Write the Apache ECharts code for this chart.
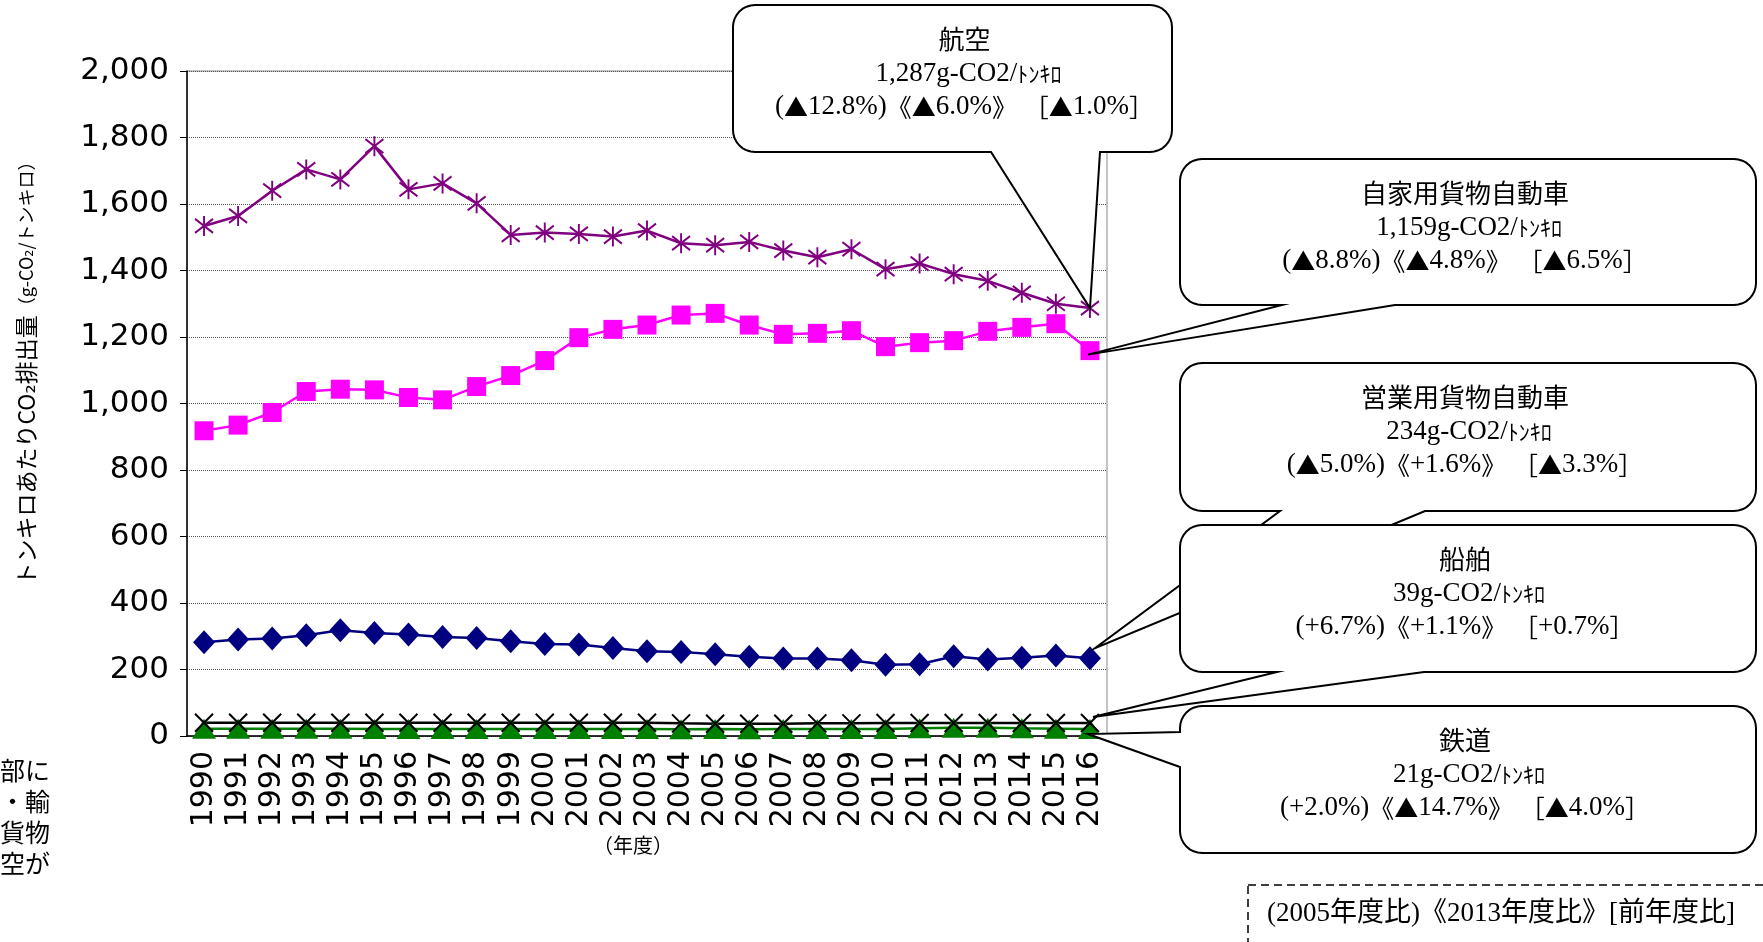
<!DOCTYPE html>
<html>
<head>
<meta charset="utf-8">
<script src="https://cdn.jsdelivr.net/npm/echarts@6/dist/echarts.min.js"></script>
<style>
html, body { margin: 0; padding: 0; background: #fff; }
#main { width: 1763px; height: 942px; }
</style>
</head>
<body>
<div id="main"></div>
<script>
// 年度
var years = ['1990', '1991', '1992', '1993', '1994', '1995', '1996', '1997', '1998', '1999',
    '2000', '2001', '2002', '2003', '2004', '2005', '2006', '2007', '2008', '2009',
    '2010', '2011', '2012', '2013', '2014', '2015', '2016'];

// トンキロあたりCO2排出量 (g-CO2/トンキロ)
var aviation = [1534, 1564, 1640, 1704, 1674, 1774, 1644, 1662, 1602, 1507, 1514, 1510, 1502, 1520,
    1482, 1476, 1486, 1460, 1440, 1464, 1404, 1421, 1389, 1369, 1333, 1300, 1287];
var privateTruck = [918, 935, 973, 1036, 1043, 1041, 1018, 1011, 1051, 1084, 1129, 1198, 1223, 1236,
    1266, 1271, 1236, 1208, 1211, 1219, 1171, 1183, 1189, 1217, 1229, 1240, 1159];
var commercialTruck = [282, 290, 293, 303, 318, 310, 305, 298, 295, 285, 277, 275, 265, 255,
    253, 246, 238, 233, 233, 228, 214, 216, 240, 230, 235, 242, 234];
var shipping = [40, 40, 40, 40, 40, 40, 40, 40, 40, 40, 40, 40, 40, 40,
    38, 37, 37, 37, 38, 38, 39, 39, 39, 39, 39, 39, 39];
var railway = [22, 22, 22, 22, 22, 21, 21, 21, 21, 21, 21, 21, 21, 21,
    20, 21, 20, 21, 21, 21, 21, 23, 25, 25, 23, 22, 21];

// 吹き出しの文言
var calloutNames = ['航空', '自家用貨物自動車', '営業用貨物自動車', '船舶', '鉄道'];
var calloutValues = ['1,287', '1,159', '234', '39', '21'];
var vs2005 = ['▲12.8%', '▲8.8%', '▲5.0%', '+6.7%', '+2.0%'];
var vs2013 = ['▲6.0%', '▲4.8%', '+1.6%', '+1.1%', '▲14.7%'];
var vsPrev = ['▲1.0%', '▲6.5%', '▲3.3%', '+0.7%', '▲4.0%'];
var noteLines = ['部に', '・輸', '貨物', '空が'];

var SERIF = '"Liberation Serif", "DejaVu Serif", "Noto Sans CJK JP"';
var CJK = '"Noto Sans CJK JP", "DejaVu Sans"';

// 吹き出しの位置 (series順)
var boxes = [
    {x: 733, y: 5, w: 439, h: 147, r: 22, side: 'bottom', b1: 991, b2: 1100, dx: 0, dy: 0, tx: 12},
    {x: 1180, y: 159, w: 576, h: 146, r: 22, side: 'bottom', b1: 1282, b2: 1395, dx: -2, dy: 4, tx: -3},
    {x: 1180, y: 363, w: 576, h: 148, r: 22, side: 'bottom', b1: 1280, b2: 1425, dx: 5, dy: -10, tx: -3},
    {x: 1180, y: 525, w: 576, h: 147, r: 22, side: 'bottom', b1: 1277, b2: 1424, dx: 3, dy: -6, tx: -3},
    {x: 1180, y: 706, w: 576, h: 147, r: 22, side: 'left', b1: 732, b2: 767, dx: -2, dy: 5, tx: -3}
];

// 角丸の吹き出し (polygon)
function bubblePoints(b, tip) {
    var x = b.x, y = b.y, w = b.w, h = b.h, r = b.r;
    var pts = [];
    function arc(cx, cy, a0, a1) {
        for (var k = 0; k <= 8; k++) {
            var a = (a0 + (a1 - a0) * k / 8) * Math.PI / 180;
            pts.push([cx + r * Math.cos(a), cy + r * Math.sin(a)]);
        }
    }
    arc(x + w - r, y + r, -90, 0);
    arc(x + w - r, y + h - r, 0, 90);
    if (b.side === 'bottom') {
        pts.push([b.b2, y + h], tip, [b.b1, y + h]);
    }
    arc(x + r, y + h - r, 90, 180);
    if (b.side === 'left') {
        pts.push([x, b.b2], tip, [x, b.b1]);
    }
    arc(x + r, y + r, 180, 270);
    return pts;
}

// ▲ は全角の字形で
function tri(s) {
    return '{n|' + s.replace(/▲/g, '}{t|▲}{n|') + '}';
}

var dom = document.getElementById('main');
var myChart = echarts.init(dom);

var option = {
    animation: false,
    backgroundColor: '#fff',
    grid: {
        left: 187, right: 656, top: 71, bottom: 206,
        show: true, borderColor: '#888', borderWidth: 1
    },
    xAxis: {
        type: 'category',
        data: years,
        boundaryGap: true,
        name: '（年度）',
        nameLocation: 'middle',
        nameGap: 96,
        nameTextStyle: {fontFamily: 'Noto Sans CJK JP', fontSize: 20, color: '#000', padding: [0, 28, 0, 0]},
        axisLine: {lineStyle: {color: '#000', width: 1.5}},
        axisTick: {inside: true, length: 7, lineStyle: {color: '#000', width: 1}},
        axisLabel: {
            rotate: 90, margin: 15, interval: 0,
            fontFamily: 'DejaVu Sans', fontSize: 30, color: '#000'
        }
    },
    yAxis: {
        type: 'value',
        min: 0, max: 2000, interval: 200,
        axisLine: {show: true, lineStyle: {color: '#000', width: 1.5}},
        axisTick: {show: true, length: 7, lineStyle: {color: '#000'}},
        axisLabel: {
            margin: 18, fontFamily: 'DejaVu Sans', fontSize: 31, color: '#000',
            formatter: function (v) {
                return String(v).replace(/(\d)(?=(\d{3})+$)/g, '$1,');
            }
        },
        splitLine: {lineStyle: {color: '#555', type: 'dotted', width: 1}}
    },
    series: [
        {
            name: '航空', type: 'line', data: aviation, showAllSymbol: true,
            symbol: 'path://M0,-10L0,10M-9,-7L9,7M-9,7L9,-7', symbolSize: [18, 20],
            lineStyle: {color: '#800080', width: 2.5},
            itemStyle: {color: '#800080', borderColor: '#800080', borderWidth: 2}
        },
        {
            name: '自家用貨物自動車', type: 'line', data: privateTruck, showAllSymbol: true,
            symbol: 'rect', symbolSize: 19,
            lineStyle: {color: '#ff00ff', width: 2.5},
            itemStyle: {color: '#ff00ff'}
        },
        {
            name: '営業用貨物自動車', type: 'line', data: commercialTruck, showAllSymbol: true,
            symbol: 'diamond', symbolSize: [22, 24],
            lineStyle: {color: '#000080', width: 2.5},
            itemStyle: {color: '#000080'}
        },
        {
            name: '鉄道', type: 'line', data: railway, showAllSymbol: true,
            symbol: 'triangle', symbolSize: [24, 20],
            lineStyle: {color: '#008000', width: 2.5},
            itemStyle: {color: '#008000'}
        },
        {
            name: '船舶', type: 'line', data: shipping, showAllSymbol: true,
            symbol: 'path://M-8,-8L8,8M-8,8L8,-8', symbolSize: 18,
            lineStyle: {color: '#000', width: 2.5},
            itemStyle: {color: '#000', borderColor: '#000', borderWidth: 2}
        }
    ]
};

myChart.setOption(option);

// 吹き出し・注記
var seriesData = [aviation, privateTruck, commercialTruck, shipping, railway];
var last = years.length - 1;
var graphics = [];

graphics.push({
    type: 'text', x: 26, y: 369, rotation: Math.PI / 2, z: 50,
    style: {
        text: '{a|トンキロあたりCO₂排出量}{b|（g-CO₂/トンキロ）}',
        textAlign: 'center', textVerticalAlign: 'middle',
        rich: {
            a: {fontFamily: CJK, fontSize: 23, fill: '#000'},
            b: {fontFamily: CJK, fontSize: 18, fill: '#000'}
        }
    }
});

noteLines.forEach(function (t, i) {
    graphics.push({
        type: 'text', x: 50, y: 773 + i * 31, z: 50,
        style: {text: t, fontFamily: SERIF, fontSize: 25, fill: '#000',
            textAlign: 'right', textVerticalAlign: 'middle'}
    });
});

var boxRich = {
    n: {fontFamily: SERIF, fontSize: 27, fill: '#000'},
    t: {fontFamily: CJK, fontSize: 24, fill: '#000'},
    j: {fontFamily: CJK, fontSize: 25, fill: '#000'},
    k: {fontFamily: CJK, fontSize: 22, fill: '#000'}
};

boxes.forEach(function (b, i) {
    var pt = myChart.convertToPixel({gridIndex: 0}, [last, seriesData[i][last]]);
    var tip = [pt[0] + b.dx, pt[1] + b.dy];
    var z = 100 + i * 2;
    var cx = b.x + b.w / 2 + b.tx;
    graphics.push({
        type: 'polygon', z: z,
        shape: {points: bubblePoints(b, tip)},
        style: {fill: '#fff', stroke: '#000', lineWidth: 2}
    });
    graphics.push({
        type: 'text', x: cx, y: b.y + 34, z: z + 1,
        style: {text: calloutNames[i], fontFamily: CJK, fontSize: 26, fill: '#000',
            textAlign: 'center', textVerticalAlign: 'middle'}
    });
    graphics.push({
        type: 'text', x: cx + 4, y: b.y + 69, z: z + 1,
        style: {
            text: '{n|' + calloutValues[i] + 'g-CO2/}{k|ﾄﾝｷﾛ}',
            textAlign: 'center', textVerticalAlign: 'middle', rich: boxRich
        }
    });
    graphics.push({
        type: 'text', x: cx, y: b.y + 102, z: z + 1,
        style: {
            text: tri('(' + vs2005[i] + ')') + '{j|《}' + tri(vs2013[i]) + '{j|》}{n| }{j|［}' + tri(vsPrev[i]) + '{j|］}',
            textAlign: 'center', textVerticalAlign: 'middle', rich: boxRich
        }
    });
});

graphics.push({
    type: 'rect', z: 50,
    shape: {x: 1248, y: 885, width: 600, height: 100},
    style: {fill: 'none', stroke: '#000', lineWidth: 1.5, lineDash: [8, 5]}
});
graphics.push({
    type: 'text', x: 1267, y: 914, z: 51,
    style: {text: '(2005年度比)《2013年度比》[前年度比]', fontFamily: SERIF, fontSize: 27, fill: '#000',
        textAlign: 'left', textVerticalAlign: 'middle'}
});

myChart.setOption({graphic: graphics});
</script>
</body>
</html>
